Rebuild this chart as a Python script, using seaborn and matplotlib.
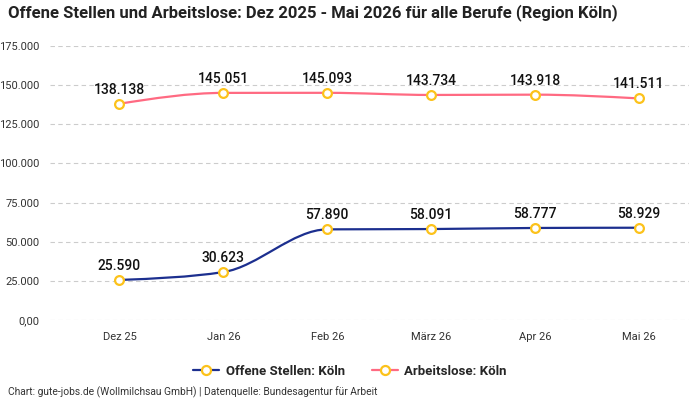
import matplotlib
matplotlib.use("Agg")
import matplotlib.pyplot as plt
import seaborn as sns
import numpy as np
import pandas as pd
from matplotlib.path import Path
from matplotlib.patches import PathPatch
from matplotlib.lines import Line2D
from matplotlib.ticker import FuncFormatter

# data
months = ["Dez 25", "Jan 26", "Feb 26", "März 26", "Apr 26", "Mai 26"]
offene_stellen = [25590, 30623, 57890, 58091, 58777, 58929]
arbeitslose = [138138, 145051, 145093, 143734, 143918, 141511]
series_names = ["Offene Stellen: Köln", "Arbeitslose: Köln"]
y_ticks = [0, 25000, 50000, 75000, 100000, 125000, 150000, 175000]

NAVY = "#1c2f8f"
PINK = "#ff6a82"
YELLOW = "#fcc21b"

sns.set_theme(style="white")
plt.rcParams["font.family"] = ["Roboto", "DejaVu Sans"]


def de_num(v):
    return f"{int(round(v)):,}".replace(",", ".")


def monotone_path(xs, ys):
    # monotone cubic (like d3 curveMonotoneX) as bezier segments
    xs = np.asarray(xs, float)
    ys = np.asarray(ys, float)
    h = np.diff(xs)
    d = np.diff(ys) / h
    n = len(xs)
    m = np.zeros(n)
    for i in range(1, n - 1):
        if d[i - 1] * d[i] <= 0:
            m[i] = 0
        else:
            m[i] = (np.sign(d[i - 1]) + np.sign(d[i])) * min(abs(d[i - 1]), abs(d[i]),
                                                              0.5 * abs((h[i - 1] * d[i] + h[i] * d[i - 1]) / (h[i - 1] + h[i])))
    m[0] = (3 * d[0] - m[1]) / 2
    m[-1] = (3 * d[-1] - m[-2]) / 2
    verts = [(xs[0], ys[0])]
    codes = [Path.MOVETO]
    for i in range(n - 1):
        dx = h[i] / 3
        verts += [(xs[i] + dx, ys[i] + m[i] * dx),
                  (xs[i + 1] - dx, ys[i + 1] - m[i + 1] * dx),
                  (xs[i + 1], ys[i + 1])]
        codes += [Path.CURVE4] * 3
    return Path(verts, codes)


df = pd.DataFrame({
    "month": months * 2,
    "x": list(range(len(months))) * 2,
    "value": offene_stellen + arbeitslose,
    "series": [series_names[0]] * len(months) + [series_names[1]] * len(months),
})

fig = plt.figure(figsize=(7, 4), dpi=100)
ax = fig.add_axes([0.072, 0.2, 0.912, 0.685])

colors = {series_names[0]: NAVY, series_names[1]: PINK}
for name, grp in df.groupby("series", sort=False):
    patch = PathPatch(monotone_path(grp["x"], grp["value"]), facecolor="none",
                      edgecolor=colors[name], lw=1.6, zorder=3)
    ax.add_patch(patch)
    for xv, yv in zip(grp["x"], grp["value"]):
        ax.annotate(de_num(yv), (xv, yv), xytext=(0, 5), textcoords="offset points",
                    ha="center", va="bottom", fontsize=10, color="#111111",
                    fontweight="medium", zorder=5)

sns.scatterplot(data=df, x="x", y="value", ax=ax, s=40, color="white",
                edgecolor=YELLOW, linewidth=1.6, zorder=4, legend=False)

ax.set_xlim(-0.665, 5.48)
ax.set_ylim(0, 175000)
ax.set_yticks(y_ticks)
ax.yaxis.set_major_formatter(FuncFormatter(lambda v, p: "0,00" if v == 0 else de_num(v)))
ax.set_xticks(range(len(months)))
ax.set_xticklabels(months)
ax.set_xlabel("")
ax.set_ylabel("")
ax.tick_params(axis="both", labelsize=8, colors="#333333", length=0)
ax.tick_params(axis="x", pad=9)
ax.tick_params(axis="y", pad=8)
ax.grid(axis="y", color="#cccccc", linestyle=(0, (4, 3)), lw=0.8)
ax.grid(axis="x", visible=False)
sns.despine(ax=ax, left=True, bottom=True)

handles = [Line2D([0], [0], color=c, lw=1.6, marker="o", markersize=6.5,
                  markerfacecolor="white", markeredgecolor=YELLOW, markeredgewidth=1.6)
           for c in (NAVY, PINK)]
fig.legend(handles, series_names, loc="center", bbox_to_anchor=(0.5, 0.072), ncol=2,
           frameon=False, handlelength=2.0, columnspacing=2.0, handletextpad=0.5,
           prop={"weight": "bold", "size": 9.5})

fig.text(0.011, 0.99, "Offene Stellen und Arbeitslose: Dez 2025 - Mai 2026 für alle Berufe (Region Köln)",
         ha="left", va="top", fontsize=12, fontweight="bold", color="#222222")
fig.text(0.011, 0.006, "Chart: gute-jobs.de (Wollmilchsau GmbH) | Datenquelle: Bundesagentur für Arbeit",
         ha="left", va="bottom", fontsize=7.4, color="#333333")

fig.savefig("out.png", dpi=100)
